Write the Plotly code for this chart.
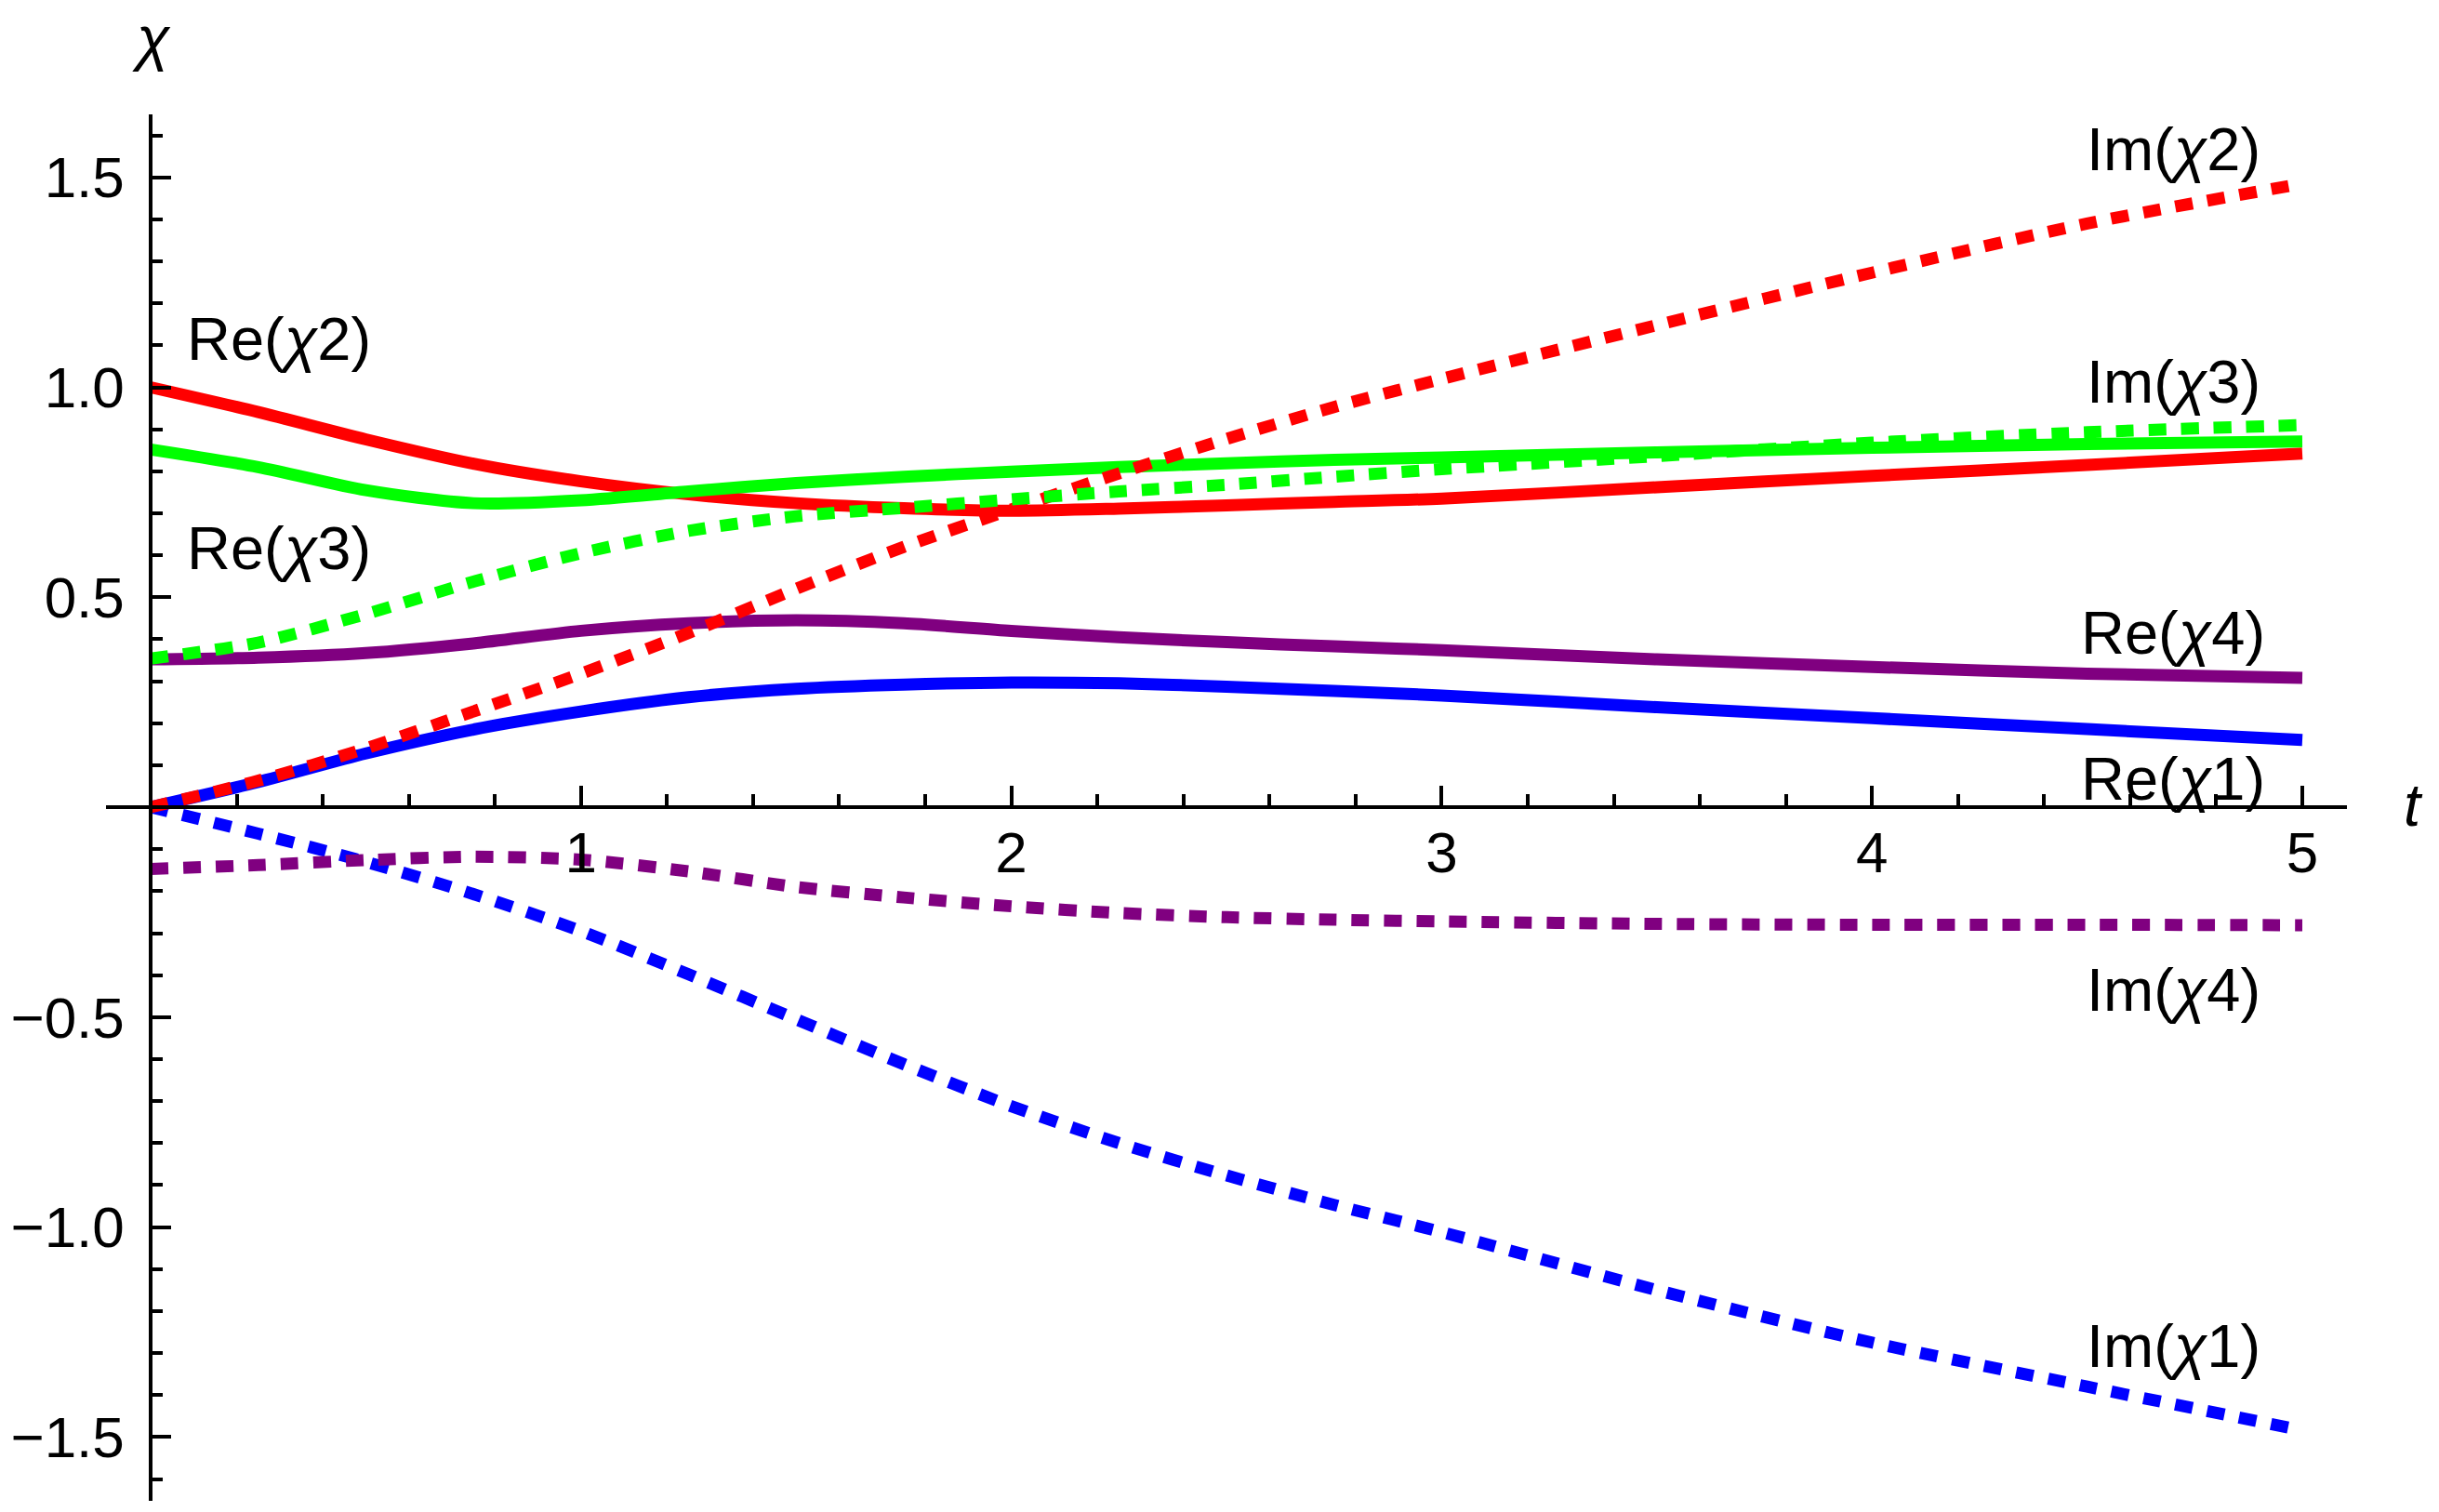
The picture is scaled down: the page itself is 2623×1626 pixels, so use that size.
import plotly.graph_objects as go

# time grid the curves were read at
t = [0, 0.25, 0.5, 0.75, 1.0, 1.25, 1.5, 1.75, 2.0, 2.25, 2.5, 2.75, 3.0, 3.5, 4.0, 4.5, 5.0]

re_chi1 = [0.0, 0.06, 0.128, 0.185, 0.228, 0.262, 0.282, 0.292, 0.297, 0.295, 0.287, 0.277, 0.266, 0.238, 0.212, 0.186, 0.16]
re_chi2 = [1.0, 0.941, 0.876, 0.818, 0.776, 0.745, 0.724, 0.712, 0.706, 0.711, 0.719, 0.727, 0.735, 0.762, 0.789, 0.815, 0.842]
re_chi3 = [0.852, 0.81, 0.755, 0.724, 0.731, 0.752, 0.772, 0.787, 0.799, 0.81, 0.819, 0.827, 0.833, 0.845, 0.856, 0.865, 0.871]
re_chi4 = [0.352, 0.356, 0.367, 0.39, 0.42, 0.438, 0.445, 0.438, 0.42, 0.405, 0.393, 0.383, 0.374, 0.352, 0.334, 0.318, 0.308]

im_chi1 = [0.0, -0.063, -0.13, -0.207, -0.295, -0.398, -0.505, -0.612, -0.712, -0.8, -0.877, -0.947, -1.012, -1.15, -1.275, -1.38, -1.484]
im_chi2 = [0.0, 0.063, 0.14, 0.228, 0.318, 0.415, 0.52, 0.62, 0.709, 0.795, 0.877, 0.953, 1.02, 1.148, 1.273, 1.39, 1.485]
im_chi3 = [0.354, 0.392, 0.46, 0.537, 0.605, 0.658, 0.693, 0.713, 0.733, 0.752, 0.768, 0.787, 0.805, 0.836, 0.868, 0.893, 0.91]
im_chi4 = [-0.147, -0.138, -0.126, -0.118, -0.125, -0.153, -0.19, -0.215, -0.236, -0.252, -0.262, -0.268, -0.272, -0.278, -0.28, -0.28, -0.281]

x_tickvals = [1, 2, 3, 4, 5]
x_ticktext = ["1", "2", "3", "4", "5"]
y_tickvals = [-1.5, -1.0, -0.5, 0.5, 1.0, 1.5]
y_ticktext = ["\u22121.5", "\u22121.0", "\u22120.5", "0.5", "1.0", "1.5"]

BLUE = "#0000FF"
RED = "#FF0000"
GREEN = "#00FF00"
PURPLE = "#800080"
DASH = "19px,16px"

fig = go.Figure()

# solid first, dashed on top (same as the original drawing order)
series = [
    ("Re(χ1)", re_chi1, BLUE, "solid"),
    ("Re(χ2)", re_chi2, RED, "solid"),
    ("Re(χ3)", re_chi3, GREEN, "solid"),
    ("Re(χ4)", re_chi4, PURPLE, "solid"),
    ("Im(χ1)", im_chi1, BLUE, DASH),
    ("Im(χ2)", im_chi2, RED, DASH),
    ("Im(χ3)", im_chi3, GREEN, DASH),
    ("Im(χ4)", im_chi4, PURPLE, DASH),
]
for name, vals, color, dash in series:
    fig.add_trace(go.Scatter(
        x=t, y=vals, mode="lines", name=name,
        line=dict(color=color, width=13, dash=dash, shape="spline", smoothing=0.8),
        hoverinfo="skip",
    ))

# curve labels: (text, x, y)
labels = [
    ("Re(<i>χ</i>2)", 0.298, 1.115),
    ("Re(<i>χ</i>3)", 0.298, 0.616),
    ("Im(<i>χ</i>2)", 4.70, 1.566),
    ("Im(<i>χ</i>3)", 4.70, 1.014),
    ("Re(<i>χ</i>4)", 4.70, 0.415),
    ("Re(<i>χ</i>1)", 4.70, 0.068),
    ("Im(<i>χ</i>4)", 4.70, -0.434),
    ("Im(<i>χ</i>1)", 4.70, -1.284),
]
annotations = []
for txt, lx, ly in labels:
    annotations.append(dict(x=lx, y=ly, xref="x", yref="y", text=txt, showarrow=False,
                            xanchor="center", yanchor="middle", font=dict(size=65)))
# axis labels (paper coords, they sit outside the axis ranges)
annotations.append(dict(x=0.0203, y=1.081, xref="paper", yref="paper", text="<i>χ</i>",
                        showarrow=False, xanchor="center", yanchor="top", font=dict(size=65)))
annotations.append(dict(x=1.0295, y=0.5017, xref="paper", yref="paper", text="<i>t</i>",
                        showarrow=False, xanchor="center", yanchor="middle", font=dict(size=65)))

axis_common = dict(
    showline=True, linecolor="black", linewidth=3.5,
    ticks="inside", tickwidth=3.5, tickcolor="black",
    showgrid=False, zeroline=False, anchor="free",
    tickfont=dict(size=62, color="black"),
)

fig.update_layout(
    width=2623, height=1626,
    margin=dict(l=114, r=99, t=123, b=12, pad=0),
    paper_bgcolor="white", plot_bgcolor="white",
    showlegend=False,
    font=dict(family="Liberation Sans, Arial, sans-serif", size=62, color="black"),
    xaxis=dict(
        axis_common, range=[-0.1037, 5.1037], position=0.5003,
        ticklen=21, tickmode="array", tickvals=x_tickvals, ticktext=x_ticktext,
        ticklabelstandoff=-6,
        minor=dict(ticks="inside", ticklen=12, tickwidth=3.5, tickcolor="black",
                   tickmode="linear", tick0=0, dtick=0.2, showgrid=False),
    ),
    yaxis=dict(
        axis_common, range=[-1.652, 1.650], position=0.01991,
        ticklen=20, tickmode="array", tickvals=y_tickvals, ticktext=y_ticktext,
        ticklabelstandoff=14,
        minor=dict(ticks="inside", ticklen=11, tickwidth=3.5, tickcolor="black",
                   tickmode="linear", tick0=0, dtick=0.1, showgrid=False),
    ),
    annotations=annotations,
)

fig.write_html("out.html", config={"displayModeBar": False},
               post_script="document.body.style.margin='0';document.body.style.overflow='hidden';")
